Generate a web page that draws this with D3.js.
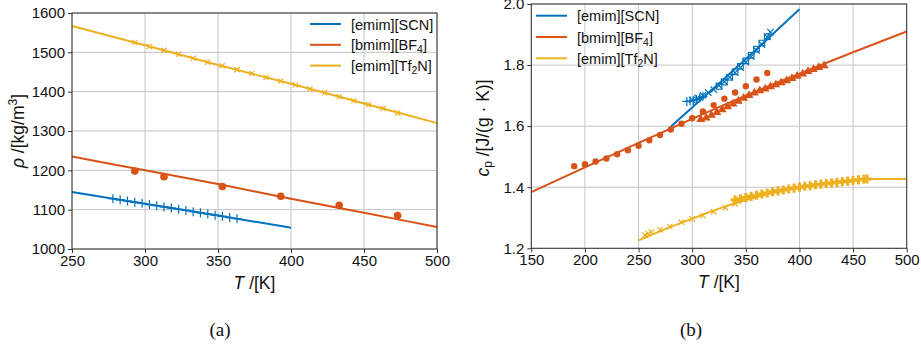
<!DOCTYPE html>
<html><head><meta charset="utf-8">
<script src="https://cdn.jsdelivr.net/npm/d3@7"></script>
<style>body{margin:0;background:#fff}svg{display:block}</style>
</head><body><svg id="c" width="921" height="346" font-family="Liberation Sans, Arial, sans-serif"></svg>
<script>
// ---------- DATA ----------
const seriesNames = ["[emim][SCN]", "[bmim][BF4]", "[emim][Tf2N]"];
const colors = ["#0072BD", "#D95319", "#EDB120"];
// (a) density
const rhoTicksX = [250, 300, 350, 400, 450, 500];
const rhoTicksY = [1000, 1100, 1200, 1300, 1400, 1500, 1600];
const rhoLineT_SCN = [250, 300, 350, 400];
const rhoLine_SCN = [1145, 1115, 1085, 1054];
const rhoLineT_BF4 = [250, 300, 350, 400, 450, 500];
const rhoLine_BF4 = [1235, 1200, 1165, 1128, 1092, 1056];
const rhoLineT_Tf2N = [250, 300, 350, 400, 450, 500];
const rhoLine_Tf2N = [1567, 1518, 1468, 1420, 1370, 1320];
const rhoPtsT_SCN = [278, 283, 288, 293, 298, 303, 308, 313, 318, 323, 328, 333, 338, 343, 348, 353, 358, 363];
const rhoPts_SCN = [1128, 1125, 1122, 1119, 1116, 1113, 1110, 1107, 1104, 1101, 1098, 1095, 1092, 1089, 1086, 1083, 1080, 1077];
const rhoPtsT_BF4 = [293, 313, 353, 393, 433, 473];
const rhoPts_BF4 = [1198, 1184, 1159, 1134, 1111, 1085];
const rhoPtsT_Tf2N = [293, 303, 313, 323, 333, 343, 353, 363, 373, 383, 393, 403, 413, 423, 433, 443, 453, 463, 473];
const rhoPts_Tf2N = [1525, 1515, 1505, 1495, 1485, 1475, 1466, 1456, 1446, 1436, 1427, 1417, 1407, 1397, 1387, 1377, 1367, 1357, 1346];
// (b) heat capacity
const cpTicksX = [150, 200, 250, 300, 350, 400, 450, 500];
const cpTicksY = [1.2, 1.4, 1.6, 1.8, 2.0];
const cpLineT_SCN = [280, 300, 320, 340, 360, 380, 400];
const cpLine_SCN = [1.598, 1.661, 1.724, 1.788, 1.852, 1.917, 1.983];
const cpLineT_BF4 = [150, 200, 250, 300, 350, 400, 450, 500];
const cpLine_BF4 = [1.384, 1.465, 1.545, 1.624, 1.700, 1.772, 1.842, 1.910];
const cpLineT_Tf2N = [250, 275, 300, 325, 350, 375, 400, 425, 450, 465, 500];
const cpLine_Tf2N = [1.226, 1.263, 1.297, 1.330, 1.358, 1.381, 1.400, 1.414, 1.423, 1.427, 1.427];
const cpPlusT_SCN = [295, 298, 301, 304, 307, 310];
const cpPlus_SCN = [1.681, 1.682, 1.684, 1.687, 1.692, 1.697];
const cpXT_SCN = [300, 305, 310, 315, 320, 325, 330, 335, 340, 345, 350, 355, 360, 365, 370, 373];
const cpX_SCN = [1.686, 1.693, 1.701, 1.710, 1.720, 1.733, 1.746, 1.760, 1.775, 1.792, 1.810, 1.828, 1.848, 1.868, 1.892, 1.908];
const cpSqT_SCN = [325, 330, 335, 340, 345, 350, 355, 360, 365, 370];
const cpSq_SCN = [1.730, 1.744, 1.760, 1.778, 1.796, 1.814, 1.832, 1.852, 1.872, 1.893];
const cpCircT_BF4 = [190, 200, 210, 220, 230, 240, 250, 260, 270, 280, 290, 300, 310, 320, 330, 340, 350, 360, 370];
const cpCirc_BF4 = [1.469, 1.475, 1.484, 1.494, 1.508, 1.521, 1.536, 1.554, 1.571, 1.589, 1.608, 1.626, 1.648, 1.669, 1.690, 1.710, 1.731, 1.753, 1.774];
const cpTriT_BF4 = [308, 313, 318, 323, 328, 333, 338, 343, 348, 353, 358, 363, 368, 373, 378, 383, 388, 393, 398, 403, 408, 413, 418, 423];
const cpTri_BF4 = [1.622, 1.627, 1.636, 1.645, 1.654, 1.664, 1.673, 1.682, 1.692, 1.701, 1.709, 1.716, 1.722, 1.729, 1.736, 1.742, 1.749, 1.756, 1.764, 1.771, 1.779, 1.786, 1.792, 1.798];
const cpXT_Tf2N = [256, 259, 262, 270, 279, 290, 300, 310, 320, 331, 340];
const cpX_Tf2N = [1.243, 1.248, 1.253, 1.261, 1.271, 1.285, 1.296, 1.307, 1.320, 1.333, 1.346];
const cpPT_Tf2N = [340, 345, 350, 355, 360, 365, 370, 375, 380, 385, 390, 395, 400, 405, 410, 415, 420, 425, 430, 435, 440, 445, 450, 455, 460, 463];
const cpP_Tf2N = [1.359, 1.362, 1.366, 1.370, 1.374, 1.378, 1.381, 1.385, 1.388, 1.391, 1.394, 1.397, 1.400, 1.403, 1.405, 1.408, 1.410, 1.412, 1.414, 1.416, 1.418, 1.420, 1.422, 1.424, 1.426, 1.427];

// ---------- DRAW ----------
const svg = d3.select("#c");
const zip = (a, b) => a.map((v, i) => [v, b[i]]);
const TICK_FS = 15, LEG_FS = 14.5, LAB_FS = 17.5;

function panel(cfg) {
  const g = svg.append("g");
  const x = d3.scaleLinear().domain(cfg.xd).range([cfg.l, cfg.r]);
  const y = d3.scaleLinear().domain(cfg.yd).range([cfg.b, cfg.t]);
  g.append("g").selectAll("line").data(cfg.tx).join("line")
    .attr("x1", d => x(d)).attr("x2", d => x(d)).attr("y1", cfg.t).attr("y2", cfg.b)
    .attr("stroke", "#c4c4c4").attr("stroke-width", 1);
  g.append("g").selectAll("line").data(cfg.ty).join("line")
    .attr("y1", d => y(d)).attr("y2", d => y(d)).attr("x1", cfg.l).attr("x2", cfg.r)
    .attr("stroke", "#c4c4c4").attr("stroke-width", 1);
  const plot = g.append("g");
  g.append("rect").attr("x", cfg.l).attr("y", cfg.t).attr("width", cfg.r - cfg.l).attr("height", cfg.b - cfg.t)
    .attr("fill", "none").attr("stroke", "#333").attr("stroke-width", 1);
  const ax = g.append("g").attr("transform", `translate(0,${cfg.b})`)
    .call(d3.axisBottom(x).tickValues(cfg.tx).tickSize(4).tickPadding(2).tickFormat(cfg.fx));
  const ay = g.append("g").attr("transform", `translate(${cfg.l},0)`)
    .call(d3.axisLeft(y).tickValues(cfg.ty).tickSize(4).tickPadding(3).tickFormat(cfg.fy));
  [ax, ay].forEach(a => {
    a.attr("font-family", null).attr("font-size", null);
    a.select(".domain").remove();
    a.selectAll("line").attr("stroke", "#333");
    a.selectAll("text").attr("font-size", TICK_FS).attr("fill", "#111");
  });
  const xl = g.append("text").attr("x", (cfg.l + cfg.r) / 2).attr("y", cfg.b + 40)
    .attr("text-anchor", "middle").attr("font-size", LAB_FS).attr("fill", "#111");
  xl.append("tspan").attr("font-style", "italic").text("T");
  xl.append("tspan").text(" /[K]");
  return {x, y, plot, g};
}

function drawLine(p, T, V, color) {
  p.plot.append("path").datum(zip(T, V))
    .attr("d", d3.line().x(d => p.x(d[0])).y(d => p.y(d[1])).curve(d3.curveMonotoneX))
    .attr("fill", "none").attr("stroke", color).attr("stroke-width", 2);
}
function marks(p, T, V, color, kind, s) {
  const gg = p.plot.append("g");
  zip(T, V).forEach(d => {
    const cx = p.x(d[0]), cy = p.y(d[1]);
    if (kind === "plus") {
      gg.append("path").attr("d", `M${cx - s},${cy}H${cx + s}M${cx},${cy - s}V${cy + s}`)
        .attr("stroke", color).attr("stroke-width", 1.2).attr("fill", "none");
    } else if (kind === "x") {
      gg.append("path").attr("d", `M${cx - s},${cy - s}L${cx + s},${cy + s}M${cx - s},${cy + s}L${cx + s},${cy - s}`)
        .attr("stroke", color).attr("stroke-width", 1.2).attr("fill", "none");
    } else if (kind === "sq") {
      gg.append("rect").attr("x", cx - s).attr("y", cy - s).attr("width", 2 * s).attr("height", 2 * s)
        .attr("stroke", color).attr("stroke-width", 1.1).attr("fill", "none");
    } else if (kind === "circ") {
      gg.append("circle").attr("cx", cx).attr("cy", cy).attr("r", s).attr("fill", color);
    } else if (kind === "tri") {
      gg.append("path").attr("d", d3.symbol(d3.symbolTriangle, s * s * 3)()).attr("transform", `translate(${cx},${cy})`).attr("fill", color);
    } else if (kind === "fplus") {
      gg.append("path").attr("d", d3.symbol(d3.symbolCross, s * s * 3.2)()).attr("transform", `translate(${cx},${cy})`).attr("fill", color);
    }
  });
}
function legend(p, lx, ly, dy) {
  const lab = [["[emim][SCN]"], ["[bmim][BF", "4", "]"], ["[emim][Tf", "2", "N]"]];
  lab.forEach((L, i) => {
    const yy = ly + i * dy;
    p.g.append("line").attr("x1", lx).attr("x2", lx + 31).attr("y1", yy).attr("y2", yy)
      .attr("stroke", colors[i]).attr("stroke-width", 2);
    const t = p.g.append("text").attr("x", lx + 41).attr("y", yy + 5.5).attr("font-size", LEG_FS).attr("fill", "#111");
    t.append("tspan").text(L[0]);
    if (L.length > 1) {
      t.append("tspan").attr("font-size", 10.5).attr("dy", 3).text(L[1]);
      t.append("tspan").attr("dy", -3).text(L[2]);
    }
  });
}

// Panel (a)
const A = panel({xd: [250, 500], yd: [1000, 1600], l: 72, r: 437, t: 13, b: 249, tx: rhoTicksX, ty: rhoTicksY, fx: d3.format("d"), fy: d3.format("d")});
drawLine(A, rhoLineT_SCN, rhoLine_SCN, colors[0]);
drawLine(A, rhoLineT_BF4, rhoLine_BF4, colors[1]);
drawLine(A, rhoLineT_Tf2N, rhoLine_Tf2N, colors[2]);
marks(A, rhoPtsT_SCN, rhoPts_SCN, colors[0], "plus", 4.5);
marks(A, rhoPtsT_BF4, rhoPts_BF4, colors[1], "circ", 3.8);
marks(A, rhoPtsT_Tf2N, rhoPts_Tf2N, colors[2], "x", 2.6);
legend(A, 310, 24, 20.8);
const yla = svg.append("text").attr("transform", "translate(24,131) rotate(-90)").attr("text-anchor", "middle").attr("font-size", LAB_FS).attr("fill", "#111");
yla.append("tspan").attr("font-style", "italic").text("ρ");
yla.append("tspan").text("  /[kg/m");
yla.append("tspan").attr("font-size", 12).attr("dy", -7).text("3");
yla.append("tspan").attr("dy", 7).text("]");

// Panel (b)
const B = panel({xd: [150, 500], yd: [1.2, 2.0], l: 531.3, r: 906.7, t: 4, b: 248.3, tx: cpTicksX, ty: cpTicksY, fx: d3.format("d"), fy: d3.format(".1f")});
drawLine(B, cpLineT_SCN, cpLine_SCN, colors[0]);
drawLine(B, cpLineT_BF4, cpLine_BF4, colors[1]);
drawLine(B, cpLineT_Tf2N, cpLine_Tf2N, colors[2]);
marks(B, cpPlusT_SCN, cpPlus_SCN, colors[0], "plus", 4.5);
marks(B, cpXT_SCN, cpX_SCN, colors[0], "x", 3.2);
marks(B, cpSqT_SCN, cpSq_SCN, colors[0], "sq", 2.8);
marks(B, cpCircT_BF4, cpCirc_BF4, colors[1], "circ", 3.2);
marks(B, cpTriT_BF4, cpTri_BF4, colors[1], "tri", 3.4);
marks(B, cpXT_Tf2N, cpX_Tf2N, colors[2], "x", 2.8);
marks(B, cpPT_Tf2N, cpP_Tf2N, colors[2], "fplus", 3.8);
legend(B, 536, 15.7, 21.3);
const ylb = svg.append("text").attr("transform", "translate(489,128) rotate(-90)").attr("text-anchor", "middle").attr("font-size", LAB_FS).attr("fill", "#111");
ylb.append("tspan").attr("font-style", "italic").text("c");
ylb.append("tspan").attr("font-size", 12).attr("dy", 3).text("p");
ylb.append("tspan").attr("dy", -3).text("  /[J/(g \u00b7 K)]");

// captions
[["(a)", 220], ["(b)", 691]].forEach(c => {
  svg.append("text").attr("x", c[1]).attr("y", 336).attr("text-anchor", "middle").attr("font-size", 19)
    .attr("font-family", "Liberation Serif, DejaVu Serif, serif").attr("fill", "#111").text(c[0]);
});
</script></body></html>
